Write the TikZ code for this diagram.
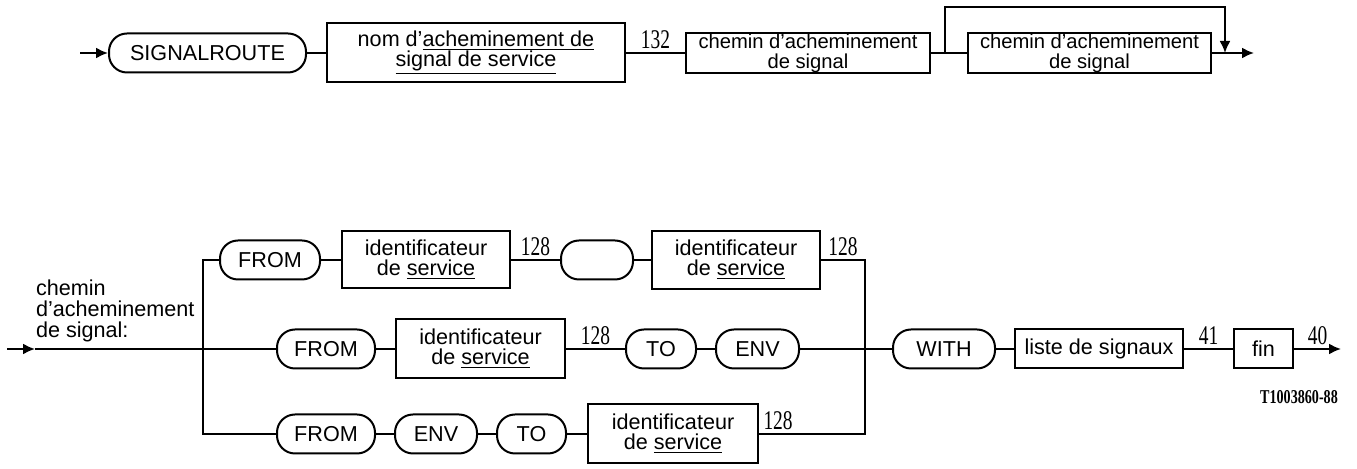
\documentclass[tikz,border=0pt]{standalone}
\usepackage{fontspec}
\setmainfont{Liberation Sans}
\newfontfamily\numfont[FakeStretch=0.72]{Liberation Serif}
\usetikzlibrary{arrows.meta,positioning}

\begin{document}
\begin{tikzpicture}[x=0.5pt, y=-0.5pt, line width=1pt,
  term/.style={draw, rounded corners=9pt, inner sep=0pt, minimum height=19.5pt, font=\fontsize{10.8}{10}\selectfont},
  box/.style={draw, inner sep=0pt, align=center, font=\fontsize{10.8}{10}\selectfont},
  lbl/.style={font=\numfont\fontsize{13.5}{13.5}\selectfont, inner sep=1.5pt},
  arrow/.style={-{Latex[length=6pt,width=5.5pt]}}
]
\useasboundingbox (0,0) rectangle (1357,469);

% top row
\node[term, minimum width=98.5pt] (sigroute) at (207.5,53) {SIGNALROUTE};
\node[box, minimum width=149pt, minimum height=29.5pt, right=9.5pt of sigroute] (nom) {nom d’\underline{acheminement de}\\\underline{signal de service}};
\node[box, minimum width=122pt, minimum height=20pt, font=\fontsize{10.1}{10}\selectfont, right=29.5pt of nom] (chemin1) {chemin d’acheminement\\de signal};
\node[box, minimum width=121.5pt, minimum height=20pt, font=\fontsize{10.1}{10}\selectfont, right=18pt of chemin1] (chemin2) {chemin d’acheminement\\de signal};
\coordinate (start) at (80,53);
\coordinate (split) at (945,53);
\coordinate (join) at (1225,53);
\coordinate (looptop) at (1225,7);
\coordinate (end1) at (1254,53);
\draw[arrow] (start) -- (sigroute);
\draw (sigroute) -- (nom);
\draw (nom) -- node[lbl, above] {132} (chemin1);
\draw (chemin1) -- (chemin2);
\draw[arrow] (chemin2) -- (end1);
\draw[arrow] (split) |- (looptop) -- (join);

% bottom rule
\node[anchor=north west, align=left, inner sep=0pt, font=\fontsize{10.8}{10.5}\selectfont] (title) at (35,279) {chemin\\d’acheminement\\de signal:};
\node[term, minimum width=50pt] (from1) at (270,260) {FROM};
\node[box, minimum width=84pt, minimum height=28.5pt, right=10pt of from1] (ident1) {identificateur\\de \underline{service}};
\node[term, minimum width=36pt, right=24.5pt of ident1] (blank) {};
\node[box, minimum width=84pt, minimum height=29pt, right=8.5pt of blank] (ident2) {identificateur\\de \underline{service}};

\node[term, minimum width=49pt] (from2) at (326,349) {FROM};
\node[box, minimum width=84.5pt, minimum height=29.5pt, right=9.5pt of from2] (ident3) {identificateur\\de \underline{service}};
\node[term, minimum width=35pt, right=29.5pt of ident3] (to2) {TO};
\node[term, minimum width=41.5pt, right=9pt of to2] (env2) {ENV};
\node[term, minimum width=51pt, right=46pt of env2] (with) {WITH};
\node[box, minimum width=84pt, minimum height=19.5pt, right=9pt of with] (liste) {liste de signaux};
\node[box, minimum width=29.5pt, minimum height=19.5pt, right=24.5pt of liste] (fin) {fin};

\node[term, minimum width=49pt] (from3) at (326,434) {FROM};
\node[term, minimum width=41pt, right=9pt of from3] (env3) {ENV};
\node[term, minimum width=34.5pt, right=9pt of env3] (to3) {TO};
\node[box, minimum width=85pt, minimum height=29.5pt, right=10pt of to3] (ident4) {identificateur\\de \underline{service}};

\node[font=\numfont\fontsize{9.8}{9.8}\selectfont\bfseries] (code) at (1299,397) {T1003860-88};

\coordinate (in) at (7,349);
\coordinate (intip) at (35,349);
\coordinate (lbus) at (203,349);
\coordinate (rbus) at (865,349);
\coordinate (end2) at (1341,349);
\draw[arrow] (in) -- (intip);
\draw (intip) -- (from2);
\draw (from1) -| (lbus) |- (from3);
\draw (from1) -- (ident1);
\draw (ident1) -- node[lbl, above] {128} (blank);
\draw (blank) -- (ident2);
\draw (ident2) -| node[lbl, above, pos=0.25] {128} (rbus) |- node[lbl, above, pos=0.91] {128} (ident4);
\draw (from2) -- (ident3);
\draw (ident3) -- node[lbl, above] {128} (to2);
\draw (to2) -- (env2);
\draw (env2) -- (with);
\draw (with) -- (liste);
\draw (liste) -- node[lbl, above] {41} (fin);
\draw[arrow] (fin) -- node[lbl, above] {40} (end2);
\draw (from3) -- (env3);
\draw (env3) -- (to3);
\draw (to3) -- (ident4);
\end{tikzpicture}
\end{document}
